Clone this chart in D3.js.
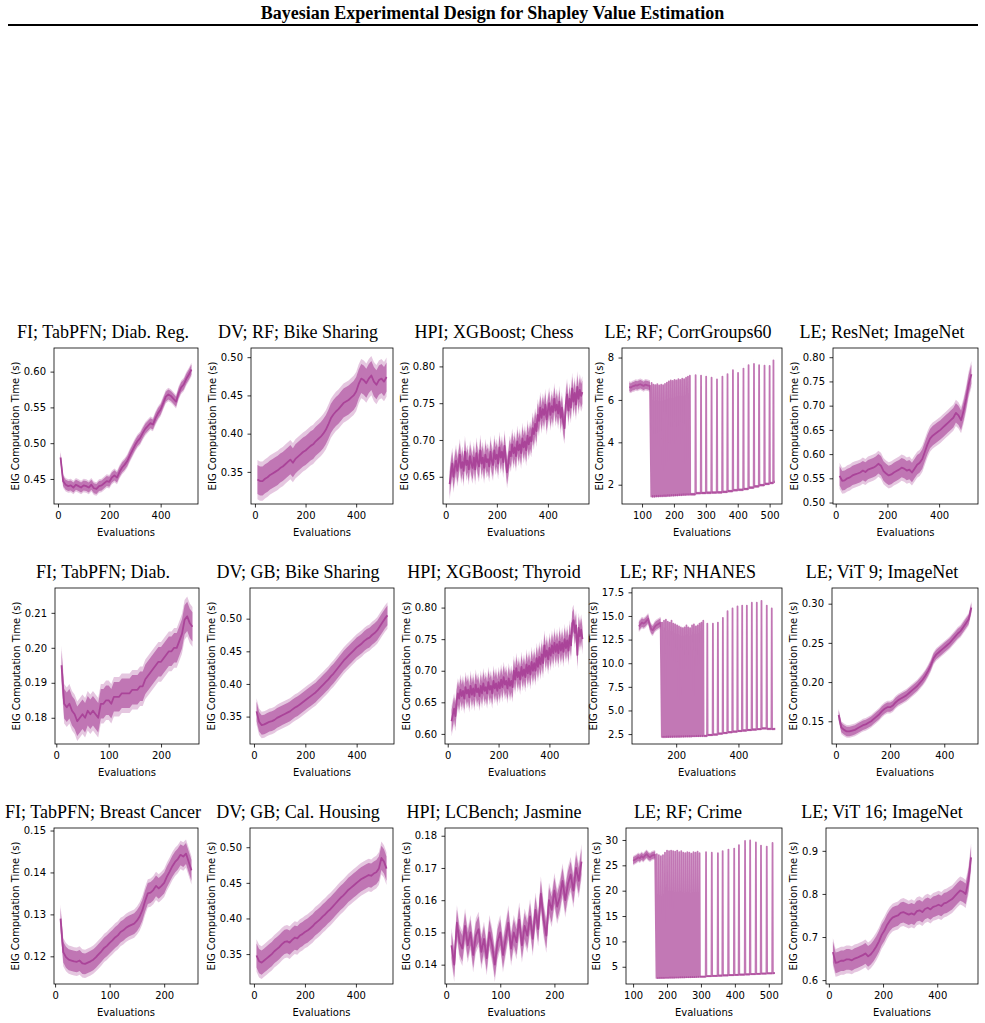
<!DOCTYPE html>
<html>
<head>
<meta charset="utf-8">
<script src="https://cdn.jsdelivr.net/npm/d3@7"></script>
<style>
  body { margin: 0; background: #fff; }
  svg text { font-family: "DejaVu Sans", sans-serif; }
  .ptitle { font-family: "Liberation Serif", "Times New Roman", serif; font-size: 18px; }
  .suptitle { font-family: "Liberation Serif", "Times New Roman", serif; font-size: 18px; font-weight: bold; }
</style>
</head>
<body>
<svg id="fig" width="985" height="1023"></svg>
<script>
// ---- data ----
const titles = [
  'FI; TabPFN; Diab. Reg.', 'DV; RF; Bike Sharing', 'HPI; XGBoost; Chess', 'LE; RF; CorrGroups60', 'LE; ResNet; ImageNet',
  'FI; TabPFN; Diab.', 'DV; GB; Bike Sharing', 'HPI; XGBoost; Thyroid', 'LE; RF; NHANES', 'LE; ViT 9; ImageNet',
  'FI; TabPFN; Breast Cancer', 'DV; GB; Cal. Housing', 'HPI; LCBench; Jasmine', 'LE; RF; Crime', 'LE; ViT 16; ImageNet'
];

// mean EIG time per evaluation (x0, step) and band half-width
const fiDiabRegY = [0.480,0.447,0.442,0.440,0.441,0.438,0.442,0.440,0.438,0.441,0.440,0.438,0.442,0.437,0.436,0.440,0.441,0.444,0.447,0.446,0.452,0.455,0.452,0.460,0.466,0.470,0.475,0.483,0.490,0.497,0.503,0.507,0.514,0.520,0.524,0.528,0.526,0.535,0.542,0.547,0.556,0.565,0.568,0.566,0.562,0.558,0.570,0.578,0.582,0.590,0.596,0.603];
const dvRfBikeY = [0.340,0.338,0.338,0.341,0.343,0.346,0.348,0.350,0.352,0.355,0.357,0.360,0.363,0.366,0.362,0.367,0.370,0.373,0.376,0.378,0.381,0.384,0.386,0.390,0.393,0.396,0.400,0.405,0.412,0.420,0.425,0.429,0.432,0.436,0.440,0.442,0.444,0.447,0.450,0.455,0.465,0.472,0.470,0.466,0.472,0.476,0.468,0.464,0.470,0.472,0.468,0.474];
const hpiChessY = [0.640,0.655,0.668,0.650,0.662,0.672,0.658,0.668,0.680,0.662,0.670,0.658,0.684,0.666,0.672,0.660,0.678,0.668,0.662,0.676,0.660,0.682,0.670,0.664,0.686,0.668,0.676,0.662,0.680,0.670,0.674,0.664,0.684,0.672,0.666,0.686,0.674,0.680,0.668,0.690,0.676,0.684,0.670,0.692,0.674,0.656,0.668,0.684,0.678,0.694,0.682,0.690,0.678,0.698,0.686,0.694,0.682,0.702,0.690,0.698,0.686,0.706,0.694,0.704,0.698,0.716,0.708,0.722,0.712,0.734,0.726,0.744,0.730,0.742,0.734,0.748,0.728,0.740,0.750,0.734,0.746,0.738,0.756,0.740,0.748,0.736,0.752,0.730,0.744,0.724,0.716,0.748,0.762,0.740,0.756,0.744,0.770,0.752,0.764,0.748,0.772,0.756,0.768,0.760,0.765];
const leResNetY = [0.555,0.545,0.546,0.550,0.552,0.556,0.558,0.560,0.562,0.566,0.563,0.568,0.570,0.572,0.575,0.580,0.576,0.565,0.560,0.556,0.558,0.562,0.565,0.568,0.572,0.570,0.566,0.568,0.562,0.570,0.578,0.582,0.590,0.605,0.620,0.632,0.638,0.642,0.646,0.650,0.655,0.660,0.665,0.670,0.675,0.685,0.680,0.670,0.690,0.715,0.745,0.765];
const fiDiabY = [0.195,0.184,0.183,0.184,0.182,0.181,0.179,0.180,0.181,0.180,0.182,0.181,0.182,0.181,0.180,0.184,0.184,0.185,0.185,0.184,0.186,0.186,0.186,0.187,0.187,0.187,0.187,0.188,0.188,0.188,0.189,0.189,0.191,0.192,0.193,0.194,0.195,0.196,0.196,0.197,0.198,0.199,0.199,0.200,0.200,0.202,0.204,0.208,0.209,0.207,0.206];
const dvGbBikeY = [0.358,0.342,0.337,0.338,0.340,0.342,0.343,0.345,0.348,0.350,0.352,0.354,0.356,0.358,0.361,0.364,0.366,0.369,0.372,0.375,0.378,0.381,0.384,0.387,0.391,0.395,0.399,0.403,0.407,0.412,0.416,0.421,0.426,0.431,0.436,0.440,0.444,0.448,0.452,0.456,0.459,0.462,0.466,0.469,0.471,0.475,0.478,0.482,0.488,0.494,0.500,0.505];
const hpiThyroidY = [0.620,0.630,0.640,0.628,0.652,0.664,0.656,0.670,0.660,0.668,0.656,0.674,0.664,0.670,0.658,0.676,0.662,0.672,0.660,0.678,0.666,0.672,0.660,0.676,0.664,0.680,0.668,0.674,0.664,0.682,0.670,0.676,0.664,0.684,0.672,0.680,0.668,0.682,0.672,0.686,0.674,0.690,0.678,0.684,0.672,0.688,0.676,0.684,0.674,0.700,0.686,0.704,0.690,0.698,0.686,0.706,0.692,0.702,0.690,0.710,0.696,0.708,0.694,0.714,0.700,0.712,0.700,0.720,0.706,0.722,0.710,0.726,0.712,0.740,0.722,0.732,0.718,0.736,0.724,0.740,0.728,0.744,0.730,0.742,0.728,0.746,0.732,0.744,0.730,0.750,0.736,0.748,0.732,0.756,0.740,0.775,0.780,0.760,0.772,0.725,0.768,0.755,0.765,0.750];
const leVit9Y = [0.158,0.142,0.139,0.137,0.137,0.138,0.139,0.141,0.143,0.145,0.146,0.148,0.150,0.153,0.156,0.159,0.163,0.166,0.168,0.168,0.170,0.174,0.177,0.179,0.181,0.183,0.186,0.189,0.192,0.195,0.199,0.203,0.208,0.214,0.221,0.230,0.235,0.238,0.241,0.244,0.247,0.250,0.254,0.258,0.262,0.265,0.270,0.275,0.280,0.295];
const fiBreastY = [0.129,0.121,0.1198,0.1192,0.119,0.1188,0.1187,0.119,0.1183,0.1182,0.1185,0.1188,0.1192,0.1198,0.1205,0.1212,0.122,0.1225,0.1232,0.1238,0.1245,0.125,0.1258,0.1262,0.1268,0.1272,0.1275,0.1278,0.1285,0.1295,0.131,0.1332,0.135,0.1352,0.1358,0.1368,0.1362,0.1368,0.1375,0.139,0.1402,0.1415,0.1425,0.1432,0.1442,0.1438,0.1445,0.1425,0.1405];
const dvGbCalY = [0.348,0.340,0.338,0.341,0.344,0.347,0.350,0.354,0.357,0.360,0.364,0.367,0.368,0.366,0.370,0.373,0.372,0.376,0.378,0.381,0.383,0.386,0.389,0.393,0.396,0.399,0.403,0.406,0.410,0.413,0.417,0.421,0.425,0.429,0.432,0.436,0.440,0.443,0.446,0.449,0.452,0.455,0.457,0.459,0.461,0.460,0.463,0.465,0.470,0.485,0.480,0.470];
const hpiJasmineY = [0.146,0.140,0.153,0.147,0.145,0.152,0.146,0.150,0.143,0.149,0.151,0.144,0.148,0.142,0.150,0.146,0.140,0.147,0.150,0.143,0.148,0.153,0.145,0.150,0.147,0.154,0.146,0.152,0.149,0.155,0.148,0.157,0.151,0.162,0.154,0.149,0.160,0.157,0.163,0.158,0.161,0.166,0.160,0.165,0.168,0.163,0.170,0.166,0.172];
const leVit16Y = [0.665,0.640,0.642,0.645,0.645,0.648,0.648,0.646,0.650,0.652,0.655,0.658,0.662,0.655,0.660,0.668,0.678,0.690,0.705,0.715,0.728,0.738,0.745,0.748,0.750,0.756,0.758,0.755,0.752,0.755,0.752,0.760,0.762,0.758,0.765,0.768,0.764,0.770,0.772,0.775,0.772,0.778,0.780,0.784,0.788,0.795,0.802,0.808,0.805,0.800,0.830,0.885];

// LE random-forest panels: flat warm-up, then [evaluation, spike top, baseline after spike]
const corrPreY = [6.62,6.58,6.64,6.66,6.70,6.68,6.72,6.74,6.70,6.66,6.72,6.70,6.68,6.66];
const corrSpikes = [[130,6.80,1.45],[136,6.72,1.45],[142,6.70,1.46],[148,6.75,1.46],[154,6.68,1.47],[160,6.72,1.47],[166,6.70,1.48],[172,6.76,1.48],[178,6.82,1.49],[184,6.88,1.49],[190,6.92,1.50],[196,6.90,1.50],[202,6.95,1.51],[208,6.92,1.51],[214,6.98,1.52],[220,6.95,1.52],[226,7.00,1.53],[232,6.98,1.53],[238,7.05,1.54],[244,7.10,1.54],[250,7.14,1.55],
  [268,7.17,1.60],[285,7.15,1.61],[301,7.10,1.62],[318,7.05,1.63],[335,6.97,1.64],[352,7.10,1.66],[368,7.22,1.70],[385,7.40,1.74],[401,7.28,1.76],[418,7.48,1.80],[434,7.64,1.86],[451,7.70,1.92],[467,7.64,1.98],[484,7.62,2.04],[500,7.60,2.08],[512,7.87,2.12]];
const corrEnd = [516, 2.14];
const nhanesPreY = [13.9,14.1,14.3,14.2,14.3,14.5,14.7,14.0,13.6,13.5,13.8,14.0,14.1,14.2,14.3];
const nhanesSpikes = [[155,14.3,2.20],[161,14.5,2.20],[167,14.6,2.21],[173,14.4,2.21],[179,14.3,2.22],[185,14.5,2.22],[191,14.2,2.23],[197,14.1,2.23],[203,14.0,2.24],[209,13.9,2.24],[215,13.8,2.25],[221,13.7,2.25],[227,13.8,2.26],[233,14.0,2.26],[239,13.8,2.27],[245,13.7,2.27],[251,14.0,2.28],[257,14.1,2.28],[263,13.9,2.29],[269,14.0,2.29],[275,14.2,2.30],[281,14.3,2.30],[287,14.5,2.31],
  [300,14.2,2.40],[318,14.2,2.45],[334,14.3,2.55],[350,14.8,2.62],[365,15.5,2.70],[381,15.8,2.76],[397,16.0,2.82],[412,16.1,2.88],[427,16.1,2.93],[443,16.4,2.98],[459,16.4,3.02],[474,16.6,3.10],[491,16.1,3.05],[507,15.8,3.02]];
const nhanesEnd = [518, 3.05];
const crimePreY = [25.9,26.1,26.3,26.6,26.4,26.8,26.5,26.9,27.2,26.8,26.6,26.9,27.0,27.1];
const crimeSpikes = [[170,27.2,2.80],[176,27.0,2.81],[182,26.8,2.82],[188,27.0,2.83],[194,27.5,2.84],[200,27.9,2.85],[206,27.8,2.86],[212,27.9,2.87],[218,27.8,2.88],[224,27.7,2.89],[230,27.9,2.90],[236,27.6,2.91],[242,27.8,2.92],[248,27.5,2.93],[254,27.4,2.94],[260,27.6,2.95],[266,27.5,2.96],[272,27.3,2.97],[278,27.6,2.98],[284,27.5,3.00],[290,27.7,3.02],[296,27.4,3.05],
  [315,27.6,3.15],[332,27.5,3.20],[350,27.4,3.25],[364,27.8,3.30],[381,28.1,3.35],[398,28.3,3.40],[412,29.0,3.45],[430,29.8,3.50],[445,29.9,3.55],[462,29.5,3.60],[477,28.9,3.65],[494,28.7,3.70],[511,29.4,3.72]];
const crimeEnd = [518, 3.75];

// per-panel x ticks, y ticks and y ranges
const xTicks = [
  [0,200,400],[0,200,400],[0,200,400],[100,200,300,400,500],[0,200,400],
  [0,100,200],[0,200,400],[0,200,400],[200,400],[0,200,400],
  [0,100,200],[0,200,400],[0,100,200],[100,200,300,400,500],[0,200,400]
];
const yTicks = [
  [0.45,0.50,0.55,0.60],[0.35,0.40,0.45,0.50],[0.65,0.70,0.75,0.80],[2,4,6,8],[0.50,0.55,0.60,0.65,0.70,0.75,0.80],
  [0.18,0.19,0.20,0.21],[0.35,0.40,0.45,0.50],[0.60,0.65,0.70,0.75,0.80],[2.5,5.0,7.5,10.0,12.5,15.0,17.5],[0.15,0.20,0.25,0.30],
  [0.12,0.13,0.14,0.15],[0.35,0.40,0.45,0.50],[0.14,0.15,0.16,0.17,0.18],[5,10,15,20,25,30],[0.6,0.7,0.8,0.9]
];
const yFormats = ['.2f','.2f','.2f','d','.2f', '.2f','.2f','.2f','.1f','.2f', '.2f','.2f','.2f','d','.1f'];
const yRanges = [
  [0.415,0.633],[0.308,0.512],[0.613,0.825],[1.09,8.45],[0.497,0.819],
  [0.1725,0.2171],[0.308,0.547],[0.584,0.831],[1.45,17.96],[0.121,0.320],
  [0.1134,0.1506],[0.308,0.527],[0.134,0.1824],[1.6,32.36],[0.591,0.953]
];

// series table: [values, first evaluation, step, band half-width]
const smoothSeries = {
  0: [fiDiabRegY, 10, 10, 0.007],  1: [dvRfBikeY, 10, 10, 0.019],   2: [hpiChessY, 15, 5, 0.016],
  4: [leResNetY, 15, 10, 0.020],   5: [fiDiabY, 10, 5, 0.0042],     6: [dvGbBikeY, 10, 10, 0.015],
  7: [hpiThyroidY, 15, 5, 0.018],  9: [leVit9Y, 10, 10, 0.006],     10: [fiBreastY, 10, 5, 0.0025],
  11: [dvGbCalY, 10, 10, 0.017],   12: [hpiJasmineY, 10, 5, 0.004], 14: [leVit16Y, 15, 10, 0.024]
};
// [warm-up values, first eval, step, spikes, end point, sd warm-up, sd top, sd base]
const spikeSeries = {
  3: [corrPreY, 60, 5, corrSpikes, corrEnd, 0.2, 0.25, 0.05],
  8: [nhanesPreY, 80, 5, nhanesSpikes, nhanesEnd, 0.45, 0.45, 0.1],
  13: [crimePreY, 100, 5, crimeSpikes, crimeEnd, 0.7, 0.7, 0.15]
};

// ---- layout ----
const rowTop = [348, 588, 828];
const axH = 156;
const axLeft = [[54,251,443,622,833],[55,250,445,632,832],[54,250,445,626,826]];
const axRight = [[198,393,589,782,978],[199,394,589,782,978],[198,393,588,782,978]];
const titleX = [103, 298, 494, 688, 882];
const COLOR = '#AA4499';

const svg = d3.select('#fig');

svg.append('text').attr('class', 'suptitle')
  .attr('x', 492.5).attr('y', 19).attr('text-anchor', 'middle')
  .text('Bayesian Experimental Design for Shapley Value Estimation');
svg.append('line').attr('x1', 8).attr('x2', 978).attr('y1', 25).attr('y2', 25)
  .attr('stroke', '#000').attr('stroke-width', 2);

function buildPoints(i) {
  if (smoothSeries[i]) {
    const [vals, x0, step, sd] = smoothSeries[i];
    return vals.map((v, k) => ({ x: x0 + k * step, y: v, sd }));
  }
  const [pre, x0, step, spikes, end, sdPre, sdTop, sdLow] = spikeSeries[i];
  const pts = pre.map((v, k) => ({ x: x0 + k * step, y: v, sd: sdPre }));
  let prevLow = spikes[0][2];
  spikes.forEach(([sx, top, low]) => {
    pts.push({ x: sx - 1, y: prevLow, sd: sdLow });
    pts.push({ x: sx, y: top, sd: sdTop });
    pts.push({ x: sx + 1, y: low, sd: sdLow });
    prevLow = low;
  });
  pts.push({ x: end[0], y: end[1], sd: sdLow });
  return pts;
}

titles.forEach((title, i) => {
  const row = Math.floor(i / 5), col = i % 5;
  const L = axLeft[row][col], R = axRight[row][col];
  const T = rowTop[row], B = T + axH;
  const pts = buildPoints(i);
  const isSpike = !!spikeSeries[i];

  const [xa, xb] = d3.extent(pts, d => d.x);
  const pad = (xb - xa) * 0.05;
  const x = d3.scaleLinear().domain([xa - pad, xb + pad]).range([L, R]);
  const y = d3.scaleLinear().domain(yRanges[i]).range([B, T]);

  const g = svg.append('g');
  const clipId = 'clip' + i;
  g.append('clipPath').attr('id', clipId)
    .append('rect').attr('x', L).attr('y', T).attr('width', R - L).attr('height', B - T);

  const plot = g.append('g').attr('clip-path', `url(#${clipId})`);
  const outer = d3.area().x(d => x(d.x)).y0(d => y(d.y - 1.35 * d.sd)).y1(d => y(d.y + 1.35 * d.sd));
  const inner = d3.area().x(d => x(d.x)).y0(d => y(d.y - d.sd)).y1(d => y(d.y + d.sd));
  const line = d3.line().x(d => x(d.x)).y(d => y(d.y));

  plot.append('path').datum(pts).attr('d', outer).attr('fill', COLOR).attr('fill-opacity', 0.3);
  plot.append('path').datum(pts).attr('d', inner).attr('fill', COLOR).attr('fill-opacity', 0.62);
  plot.append('path').datum(pts).attr('d', line)
    .attr('fill', 'none').attr('stroke', COLOR)
    .attr('stroke-width', isSpike ? 1.8 : 1.8)
    .attr('stroke-opacity', isSpike ? 0.72 : 1)
    .attr('stroke-linejoin', 'round');

  // axes
  const xAxis = g.append('g').attr('transform', `translate(0,${B})`)
    .call(d3.axisBottom(x).tickValues(xTicks[i]).tickFormat(d3.format('d')).tickSize(3.5).tickPadding(4.5));
  const yAxis = g.append('g').attr('transform', `translate(${L},0)`)
    .call(d3.axisLeft(y).tickValues(yTicks[i]).tickFormat(d3.format(yFormats[i])).tickSize(3.5).tickPadding(4.5));
  [xAxis, yAxis].forEach(a => {
    a.select('.domain').remove();
    a.selectAll('line').attr('stroke', '#000').attr('stroke-width', 0.8);
    a.selectAll('text').attr('font-size', 10).attr('fill', '#000')
      .attr('font-family', '"DejaVu Sans", sans-serif');
  });

  g.append('rect').attr('x', L).attr('y', T).attr('width', R - L).attr('height', B - T)
    .attr('fill', 'none').attr('stroke', '#000').attr('stroke-width', 0.8);

  const bb = yAxis.node().getBBox();
  g.append('text')
    .attr('transform', `translate(${L + bb.x - 5},${(T + B) / 2}) rotate(-90)`)
    .attr('text-anchor', 'middle').attr('font-size', 10)
    .text('EIG Computation Time (s)');
  g.append('text')
    .attr('x', (L + R) / 2).attr('y', B + 32).attr('text-anchor', 'middle').attr('font-size', 10)
    .text('Evaluations');

  g.append('text').attr('class', 'ptitle')
    .attr('x', titleX[col]).attr('y', T - 10).attr('text-anchor', 'middle')
    .text(title);
});
</script>
</body>
</html>
